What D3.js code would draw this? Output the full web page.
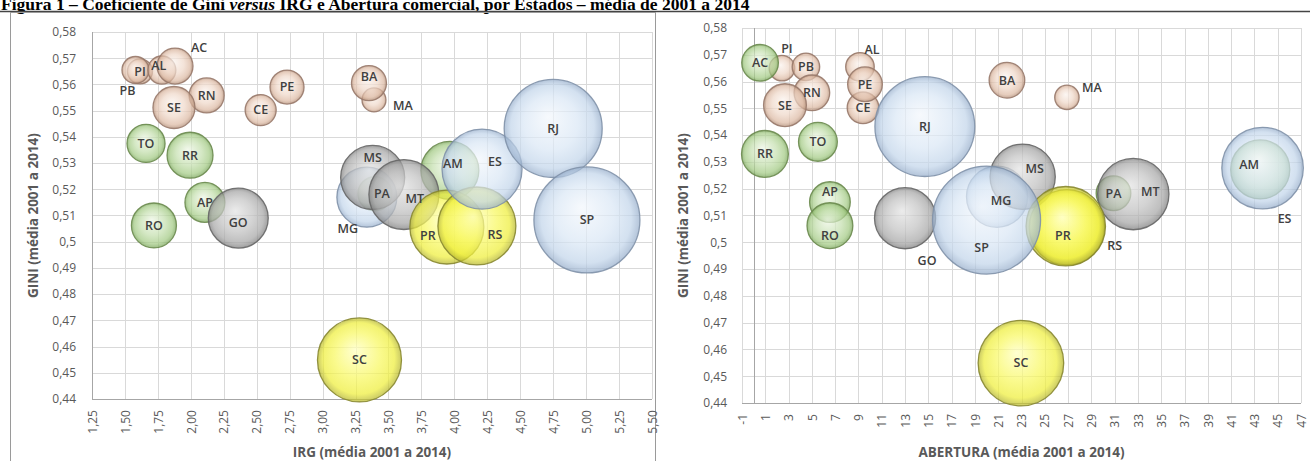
<!DOCTYPE html>
<html lang="pt-BR">
<head>
<meta charset="utf-8">
<script src="https://d3js.org/d3.v7.min.js"></script>
<style>
  body { margin: 0; background: #fff; }
  svg { display: block; font-family: 'Open Sans', sans-serif; }
  .titulo { font-family: 'Liberation Serif', 'Times New Roman', serif; font-weight: bold; font-size: 17.5px; fill: #000; }
  .grade line { stroke: #d9d9d9; stroke-width: 1; }
  .eixo text { fill: #595959; font-size: 12px; font-family: 'Open Sans', sans-serif; }
  .eixo-titulo { fill: #595959; font-weight: bold; font-size: 13.5px; }
  .rotulo { fill: #404040; font-weight: 600; font-size: 12.5px; }
</style>
</head>
<body>
<div id="chart"></div>
<script>
const estados  = ['AC','AL','AM','AP','BA','CE','ES','GO','MA','MG','MS','MT','PA','PB','PE','PI','PR','RJ','RN','RO','RR','RS','SC','SE','SP','TO'];
const regioes  = ['N','NE','N','N','NE','NE','SE','CO','NE','SE','CO','CO','N','NE','NE','NE','S','SE','NE','N','N','S','S','NE','SE','N'];
const gini     = [0.567,0.5655,0.5272,0.515,0.5605,0.5502,0.5277,0.509,0.5541,0.517,0.5245,0.518,0.5183,0.5655,0.559,0.565,0.5056,0.5432,0.5558,0.5062,0.533,0.506,0.4549,0.5512,0.5083,0.5375];
const irg      = [1.88,1.78,3.966,2.107,3.352,2.53,4.21,2.36,3.39,3.336,3.38,3.617,3.397,1.58,2.73,1.614,3.943,4.75,2.12,1.72,1.994,4.171,3.28,1.872,5.006,1.66];
const abertura = [0.55,9.13,43.5,6.55,21.75,9.39,43.7,13.0,26.9,20.9,23.1,32.6,30.9,4.49,9.56,2.43,26.9,14.7,5.0,6.55,0.97,26.8,22.95,2.69,20.0,5.52];
const tamanho  = [11.5,7.0,29.9,14.2,10.9,8.6,57,32,5.1,32,36.5,43.6,10.3,6.5,10.3,5.6,48.7,85.5,10.9,18,18.8,54.1,62.8,15.7,100,12.9];

const giniTicks = [0.44,0.45,0.46,0.47,0.48,0.49,0.5,0.51,0.52,0.53,0.54,0.55,0.56,0.57,0.58];
const irgTicks = [1.25,1.5,1.75,2,2.25,2.5,2.75,3,3.25,3.5,3.75,4,4.25,4.5,4.75,5,5.25,5.5];
const aberturaTicks = [-1,1,3,5,7,9,11,13,15,17,19,21,23,25,27,29,31,33,35,37,39,41,43,45,47];

// deslocamento dos rótulos (px) em relação ao centro da bolha
const rotuloEsq = {PB:[-8,21], AL:[-3,-4], AC:[24,-18], GO:[0,5], BA:[0,-6], MA:[29,6], ES:[13,-7], AM:[3,-7],
  MS:[0,-20], MG:[-19,31], PA:[7,0], MT:[11,4], PR:[-19,9], RS:[18,9]};
const rotuloDir = {PI:[5,-20], AL:[12,-17], AP:[0,-10], RO:[0,10], GO:[22,42], SP:[-5,28], MG:[4,4], MS:[12,-8],
  MA:[25,-10], PR:[-4,8], RS:[49,19], MT:[17,-2], AM:[-11,-5], ES:[22,51]};

const CORES = {
  N:  { stops: ['#eef6e6','#c4dfae','#a3ca84','#76a356'], stroke: '#6a8a4e' },
  NE: { stops: ['#fbf3ee','#efd8c9','#dcb9a3','#b08a72'], stroke: '#98796a' },
  SE: { stops: ['#f3f7fc','#dae7f5','#c2d5ea','#97aecb'], stroke: '#7f91a8' },
  S:  { stops: ['#ffffc0','#f8f860','#eeee3a','#b5b52a'], stroke: '#878730' },
  CO: { stops: ['#e4e4e4','#c2c2c2','#a6a6a6','#7c7c7c'], stroke: '#666' },
};

const locale = d3.formatLocale({ decimal: ',', thousands: '.', grouping: [3], currency: ['R$', ''], minus: '-' });
const fmtGini = locale.format('.2~f');

const width = 1310, height = 461;
const svg = d3.select('#chart').append('svg').attr('width', width).attr('height', height);
svg.append('rect').attr('width', width).attr('height', height).attr('fill', '#fff');

const defs = svg.append('defs');
Object.entries(CORES).forEach(([k, c]) => {
  const grad = defs.append('radialGradient').attr('id', 'bolha-' + k)
    .attr('cx', '50%').attr('cy', '50%').attr('r', '50%').attr('fx', '45%').attr('fy', '38%');
  [0, 0.55, 0.85, 1].forEach((o, i) => {
    grad.append('stop').attr('offset', o).attr('stop-color', c.stops[i]);
  });
});

// título
const titulo = svg.append('text').attr('class', 'titulo').attr('x', 1).attr('y', 10);
titulo.append('tspan').text('Figura 1 – Coeficiente de Gini ');
titulo.append('tspan').attr('font-style', 'italic').text('versus');
titulo.append('tspan').text(' IRG e Abertura comercial, por Estados – média de 2001 a 2014');
svg.append('line').attr('x1', 0).attr('x2', width).attr('y1', 11.5).attr('y2', 11.5)
  .attr('stroke', '#444').attr('stroke-width', 1.5);
svg.append('rect').attr('x', 10.5).attr('y', 12.5).attr('width', 645).attr('height', 460)
  .attr('fill', 'none').attr('stroke', '#9a9a9a');

function desenha(cfg) {
  const g = svg.append('g');
  const x = d3.scaleLinear().domain(cfg.xDom).range(cfg.xRange);
  const y = d3.scaleLinear().domain([0.44, 0.58]).range(cfg.yRange);
  const r = d3.scaleSqrt().domain([0, 100]).range([0, cfg.rMax]);

  g.append('g').attr('class', 'grade').selectAll('line').data(giniTicks).join('line')
    .attr('x1', cfg.xRange[0]).attr('x2', cfg.xRange[1])
    .attr('y1', d => Math.round(y(d)) + 0.5).attr('y2', d => Math.round(y(d)) + 0.5);
  g.append('g').attr('class', 'grade').selectAll('line').data(cfg.xTicks).join('line')
    .attr('x1', d => Math.round(x(d)) + 0.5).attr('x2', d => Math.round(x(d)) + 0.5)
    .attr('y1', cfg.yRange[1]).attr('y2', cfg.yRange[0]);

  // linhas dos eixos
  g.append('line').attr('x1', cfg.xRange[0]).attr('x2', cfg.xRange[1])
    .attr('y1', Math.round(y(0.44)) + 0.5).attr('y2', Math.round(y(0.44)) + 0.5)
    .attr('stroke', '#a6a6a6');
  g.append('line').attr('x1', Math.round(x(cfg.yAxisAt)) + 0.5).attr('x2', Math.round(x(cfg.yAxisAt)) + 0.5)
    .attr('y1', cfg.yRange[1]).attr('y2', cfg.yRange[0])
    .attr('stroke', '#a6a6a6');

  g.append('g').attr('class', 'eixo').attr('transform', `translate(${cfg.xRange[0]},0)`)
    .call(d3.axisLeft(y).tickValues(giniTicks).tickFormat(fmtGini).tickSize(0).tickPadding(cfg.yPad))
    .call(a => a.select('.domain').remove());

  g.append('g').attr('class', 'eixo').attr('transform', `translate(0,${cfg.yRange[0]})`)
    .call(d3.axisBottom(x).tickValues(cfg.xTicks).tickFormat(cfg.xFmt).tickSize(0))
    .call(a => a.select('.domain').remove())
    .selectAll('text')
    .attr('x', -cfg.xPad).attr('y', 0).attr('dy', '0.35em')
    .attr('transform', 'rotate(-90)').style('text-anchor', 'end');

  g.append('text').attr('class', 'eixo-titulo')
    .attr('transform', `translate(${cfg.yTitleX},${(cfg.yRange[0] + cfg.yRange[1]) / 2}) rotate(-90)`)
    .attr('text-anchor', 'middle').attr('dy', '0.35em')
    .text('GINI (média 2001 a 2014)');
  g.append('text').attr('class', 'eixo-titulo')
    .attr('x', (cfg.xRange[0] + cfg.xRange[1]) / 2).attr('y', cfg.xTitleY)
    .attr('text-anchor', 'middle').attr('dy', '0.35em')
    .text(cfg.xTitulo);

  // bolhas menores primeiro: as maiores ficam por cima, translúcidas
  const dados = estados.map((uf, i) => ({
    uf, reg: (cfg.corOverride && cfg.corOverride[uf]) || regioes[i],
    x: cfg.xVals[i], y: gini[i], t: tamanho[i]
  })).sort((a, b) => a.t - b.t);

  g.append('g').selectAll('circle').data(dados).join('circle')
    .attr('cx', d => x(d.x)).attr('cy', d => y(d.y)).attr('r', d => r(d.t))
    .attr('fill', d => `url(#bolha-${d.reg})`).attr('fill-opacity', 0.72)
    .attr('stroke', d => CORES[d.reg].stroke).attr('stroke-width', 1.3).attr('stroke-opacity', 0.9);

  g.append('g').selectAll('text').data(dados).join('text')
    .attr('class', 'rotulo')
    .attr('x', d => x(d.x) + (cfg.rotulos[d.uf] ? cfg.rotulos[d.uf][0] : 0))
    .attr('y', d => y(d.y) + (cfg.rotulos[d.uf] ? cfg.rotulos[d.uf][1] : 0))
    .attr('text-anchor', 'middle').attr('dy', '0.35em')
    .text(d => d.uf);
}

desenha({
  xDom: [1.25, 5.5], xRange: [92, 652], yRange: [399, 32], rMax: 53,
  xTicks: irgTicks, xFmt: locale.format('.2f'), xVals: irg, yAxisAt: 1.25,
  yPad: 16, xPad: 11, yTitleX: 33, xTitleY: 452,
  xTitulo: 'IRG (média 2001 a 2014)', rotulos: rotuloEsq, corOverride: { AC: 'NE' }
});

desenha({
  xDom: [-1, 47], xRange: [742, 1301], yRange: [403, 28], rMax: 54,
  xTicks: aberturaTicks, xFmt: locale.format('d'), xVals: abertura, yAxisAt: 0,
  yPad: 15, xPad: 11, yTitleX: 683, xTitleY: 452,
  xTitulo: 'ABERTURA (média 2001 a 2014)', rotulos: rotuloDir
});
</script>
</body>
</html>
